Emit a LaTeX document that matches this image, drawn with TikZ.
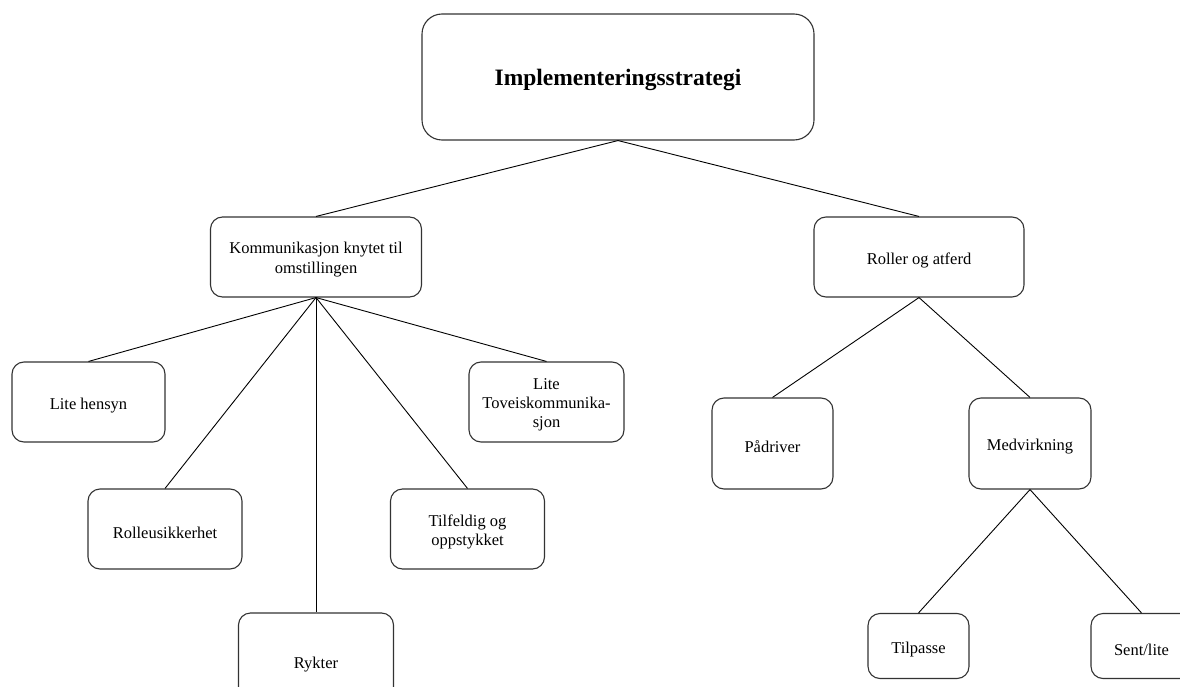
\documentclass[tikz,border=0pt]{standalone}
\usepackage{fontspec}
\setmainfont{Liberation Serif}
\begin{document}
\begin{tikzpicture}[x=1pt,y=-1pt,
  box/.style={draw=black!80,line width=1.1pt,rounded corners=12pt,inner sep=0pt,fill=white},
  txt/.style={align=center,inner sep=0pt,font=\fontsize{16.5}{19}\selectfont},
  link/.style={draw=black,line width=0.9pt}]
\useasboundingbox (0,0) rectangle (1180,687);
\clip (0,0) rectangle (1180,687);
\node[box,rounded corners=20pt,minimum width=392pt,minimum height=126pt] (top) at (618,77) {};
\node[box,minimum width=211pt,minimum height=80pt] (komm) at (316,257) {};
\node[box,minimum width=210pt,minimum height=80pt] (roller) at (919,257) {};
\node[box,minimum width=153pt,minimum height=80pt] (hensyn) at (88.5,402) {};
\node[box,minimum width=154pt,minimum height=80pt] (rolle) at (165,529) {};
\node[box,minimum width=155pt,minimum height=96pt] (rykter) at (316,661) {};
\node[box,minimum width=154pt,minimum height=80pt] (tilf) at (467.5,529) {};
\node[box,minimum width=155pt,minimum height=80pt] (tove) at (546.5,402) {};
\node[box,minimum width=121pt,minimum height=91pt] (padr) at (772.5,443.5) {};
\node[box,minimum width=122pt,minimum height=91pt] (medv) at (1030,443.5) {};
\node[box,minimum width=101pt,minimum height=65pt] (tilp) at (918.5,646) {};
\node[box,minimum width=101pt,minimum height=65pt] (sent) at (1141.5,646) {};
\node[txt,font=\fontsize{23.5}{28}\selectfont\bfseries] (topt) at ([yshift=-3pt]top.center) {Implementeringsstrategi};
\node[txt] (kommt) at ([yshift=-2.5pt]komm.center) {Kommunikasjon knytet til\\[1pt]omstillingen};
\node[txt] (rollert) at ([yshift=-3.5pt]roller.center) {Roller og atferd};
\node[txt] (hensynt) at ([yshift=-3.5pt]hensyn.center) {Lite hensyn};
\node[txt] (rollet) at ([yshift=-3.5pt]rolle.center) {Rolleusikkerhet};
\node[txt] (ryktert) at ([yshift=-3.5pt]rykter.center) {Rykter};
\node[txt] (tilft) at ([yshift=-2.5pt]tilf.center) {Tilfeldig og\\oppstykket};
\node[txt] (tovet) at ([yshift=-2.5pt]tove.center) {Lite\\Toveiskommunika-\\sjon};
\node[txt] (padrt) at ([yshift=-3.5pt]padr.center) {Pådriver};
\node[txt] (medvt) at ([yshift=-3.5pt]medv.center) {Medvirkning};
\node[txt] (tilpt) at ([yshift=-3.5pt]tilp.center) {Tilpasse};
\node[txt] (sentt) at ([yshift=-3.5pt]sent.center) {Sent/lite};
\draw[link] (top.south) -- (komm.north);
\draw[link] (top.south) -- (roller.north);
\draw[link] (komm.south) -- (hensyn.north);
\draw[link] (komm.south) -- (rolle.north);
\draw[link] (komm.south) -- (rykter.north);
\draw[link] (komm.south) -- (tilf.north);
\draw[link] (komm.south) -- (tove.north);
\draw[link] (roller.south) -- (padr.north);
\draw[link] (roller.south) -- (medv.north);
\draw[link] (medv.south) -- (tilp.north);
\draw[link] (medv.south) -- (sent.north);
\end{tikzpicture}
\end{document}
